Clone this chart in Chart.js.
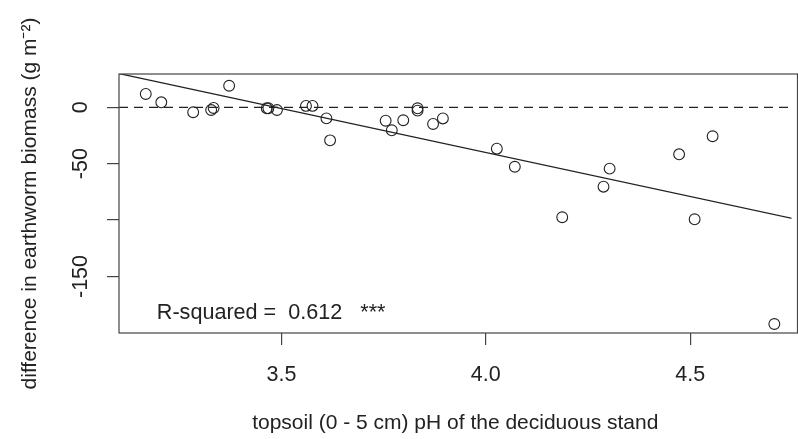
<!DOCTYPE html>
<html>
<head>
<meta charset="utf-8">
<script src="https://cdn.jsdelivr.net/npm/chart.js@4"></script>
<style>
  html, body { margin: 0; padding: 0; background: #fff; overflow: hidden; }
</style>
</head>
<body>
<canvas id="biomassChart" width="798" height="439"></canvas>
<script>
// topsoil pH of the deciduous stand vs. difference in earthworm biomass
var phValues = [3.168, 3.206, 3.284, 3.328, 3.334, 3.372, 3.464, 3.468, 3.489, 3.560,
                3.576, 3.610, 3.619, 3.755, 3.770, 3.798, 3.833, 3.833, 3.871, 3.895,
                4.027, 4.071, 4.187, 4.288, 4.303, 4.473, 4.511, 4.555, 4.706];
var biomassDiff = [11.8, 4.4, -4.4, -2.4, -0.6, 19.1, -0.9, -0.9, -2.4, 1.2,
                   1.2, -9.8, -29.3, -11.9, -20.4, -11.5, -0.9, -3.0, -14.8, -9.9,
                   -36.7, -52.7, -97.5, -70.4, -54.4, -41.7, -99.3, -25.7, -192.1];

// fitted regression line (end points)
var fitX = [3.1, 4.75];
var fitY = [30.1, -98.5];

// reference line at zero
var zeroY = 0;

var xTicks = [3.5, 4.0, 4.5];
var yTicks = [-150, -100, -50, 0];
var yTickLabels = ['-150', '', '-50', '0'];

var xMin = 3.1025, xMax = 4.748;
var yMin = -200.1, yMax = 29.5;

var rsqText = 'R-squared =  0.612   ***';
var rsqAt = [3.195, -188];

var fontFamily = '"Liberation Sans", Arial, Helvetica, sans-serif';
var ink = '#222';

var boxPlugin = {
    id: 'rbox',
    afterDatasetsDraw(chart) {
        var ctx = chart.ctx;
        var a = chart.chartArea;
        ctx.save();
        ctx.strokeStyle = '#444';
        ctx.lineWidth = 1.2;
        ctx.strokeRect(a.left, a.top, a.right - a.left + 6, a.bottom - a.top);
        // annotation text
        var xs = chart.scales.x, ys = chart.scales.y;
        ctx.fillStyle = ink;
        ctx.font = '21.6px ' + fontFamily;
        ctx.textBaseline = 'alphabetic';
        ctx.textAlign = 'left';
        ctx.fillText(rsqText, xs.getPixelForValue(rsqAt[0]), ys.getPixelForValue(rsqAt[1]));
        ctx.restore();
    }
};

var pts = [];
for (var i = 0; i < phValues.length; i++) {
    pts.push({x: phValues[i], y: biomassDiff[i]});
}
var fitPts = fitX.map(function (v, i) { return {x: v, y: fitY[i]}; });
var zeroPts = [{x: xMin, y: zeroY}, {x: xMax, y: zeroY}];

new Chart(document.getElementById('biomassChart').getContext('2d'), {
    type: 'scatter',
    data: {
        datasets: [
            {
                data: pts,
                backgroundColor: 'rgba(0,0,0,0)',
                borderColor: ink,
                borderWidth: 1.1,
                pointRadius: 5.4,
                pointHoverRadius: 5.4
            },
            {
                type: 'line',
                data: fitPts,
                borderColor: ink,
                borderWidth: 1.2,
                pointRadius: 0,
                fill: false
            },
            {
                type: 'line',
                data: zeroPts,
                borderColor: ink,
                borderWidth: 1.2,
                borderDash: [9, 6],
                pointRadius: 0,
                fill: false
            }
        ]
    },
    options: {
        responsive: false,
        devicePixelRatio: 1,
        animation: false,
        events: [],
        layout: { padding: { left: 0, right: 0, top: 74, bottom: 0 } },
        plugins: { legend: { display: false }, tooltip: { enabled: false } },
        scales: {
            x: {
                type: 'linear',
                min: xMin,
                max: xMax,
                afterBuildTicks: function (s) { s.ticks = xTicks.map(function (v) { return {value: v}; }); },
                afterFit: function (s) { s.height = 106; },
                grid: { drawOnChartArea: false, drawTicks: true, tickLength: 12, color: '#444', lineWidth: 1.2 },
                border: { display: false },
                ticks: {
                    autoSkip: false,
                    maxRotation: 0,
                    padding: 17,
                    color: ink,
                    font: { family: fontFamily, size: 21.5, lineHeight: 1.2 },
                    callback: function (v) { return Number(v).toFixed(1); }
                },
                title: {
                    display: true,
                    text: 'topsoil (0 - 5 cm) pH of the deciduous stand',
                    color: ink,
                    font: { family: fontFamily, size: 21, lineHeight: 1.2 },
                    padding: { top: 0, bottom: 3 }
                }
            },
            y: {
                type: 'linear',
                min: yMin,
                max: yMax,
                afterBuildTicks: function (s) { s.ticks = yTicks.map(function (v) { return {value: v}; }); },
                afterFit: function (s) { s.width = 119; },
                grid: { drawOnChartArea: false, drawTicks: true, tickLength: 12, color: '#444', lineWidth: 1.2 },
                border: { display: false },
                ticks: {
                    autoSkip: false,
                    minRotation: 90,
                    maxRotation: 90,
                    crossAlign: 'center',
                    padding: 4,
                    color: ink,
                    font: { family: fontFamily, size: 21.5, lineHeight: 1.2 },
                    callback: function (v, idx) { return yTickLabels[idx]; }
                },
                title: {
                    display: true,
                    text: 'difference in earthworm biomass (g m\u207B\u00B2)',
                    color: ink,
                    font: { family: fontFamily, size: 21, lineHeight: 1.2 },
                    padding: { top: 18, bottom: 0 }
                }
            }
        }
    },
    plugins: [boxPlugin]
});
</script>
</body>
</html>
